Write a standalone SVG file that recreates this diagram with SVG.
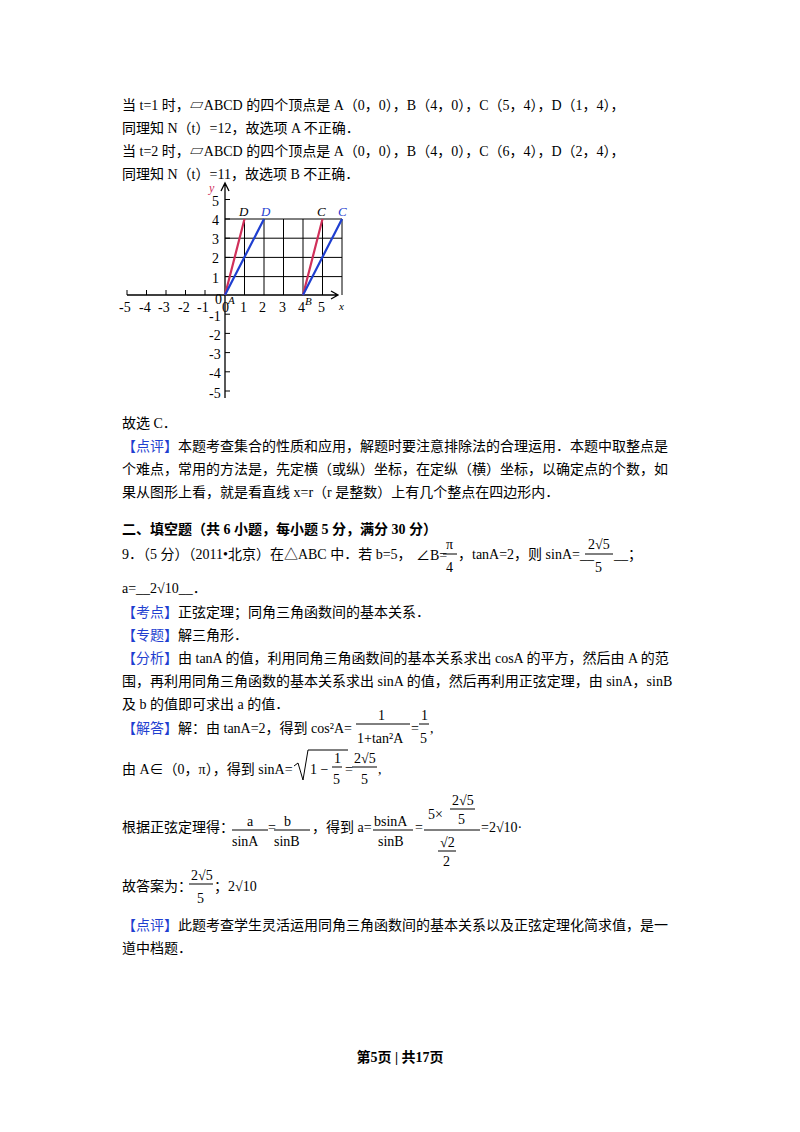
<svg xmlns="http://www.w3.org/2000/svg" width="800" height="1132" viewBox="0 0 800 1132">
<style>
text{font-family:"Liberation Serif","Noto Sans CJK SC",serif;font-size:14px;fill:#000}
.b{fill:#1f3fd0}
.m{font-family:"Liberation Sans","Noto Sans CJK SC",sans-serif;font-size:13px}
.g{stroke:#000;stroke-width:1;fill:none}
.s{font-size:11px}
.f{stroke:#000;stroke-width:1}
</style>
<rect width="800" height="1132" fill="#fff"/>
<g id="text-top">
<text x="122" y="110">当 t=1 时，▱ABCD 的四个顶点是 A（0，0），B（4，0），C（5，4），D（1，4），</text>
<text x="122" y="133">同理知 N（t）=12，故选项 A 不正确．</text>
<text x="122" y="156">当 t=2 时，▱ABCD 的四个顶点是 A（0，0），B（4，0），C（6，4），D（2，4），</text>
<text x="122" y="179">同理知 N（t）=11，故选项 B 不正确．</text>
</g>
<g id="graph">
<g class="g">
<path d="M225 276.6H342M225 257.4H342M225 238.2H342M225 219H342"/>
<path d="M244.5 219V295M264 219V295M283.5 219V295M303 219V295M322.5 219V295M342 219V295"/>
<path d="M127 295H337M331 291L338 295L331 299" stroke-width="1.3"/>
<path d="M225 398V184M221 191L225 183L229 191" stroke-width="1.3"/>
<path d="M146.5 295v-5M166 295v-5M185.5 295v-5M205 295v-5M127 295v-5"/>
<path d="M225 199.5h5M225 219h5M225 238.2h5M225 257.4h5M225 276.6h5M225 314.2h5M225 333.4h5M225 352.6h5M225 371.8h5M225 391h5"/>
</g>
<path d="M225 295L244.5 219M303 295L322.5 219" stroke="#d0305a" stroke-width="2.2"/>
<path d="M225 295L264 219M303 295L342 219" stroke="#1f3fd0" stroke-width="2.2"/>
<g class="m">
<text x="119" y="312">-5</text><text x="139" y="312">-4</text><text x="158" y="312">-3</text><text x="178" y="312">-2</text><text x="197" y="312">-1</text>
<text x="215" y="304">0</text><text x="222" y="312">0</text><text x="240" y="312">1</text><text x="259" y="312">2</text><text x="279" y="312">3</text><text x="298" y="312">4</text><text x="318" y="312">5</text>
<text x="212" y="206">5</text><text x="212" y="225">4</text><text x="212" y="244">3</text><text x="212" y="263">2</text><text x="212" y="283">1</text>
<text x="209" y="321">-1</text><text x="209" y="340">-2</text><text x="209" y="359">-3</text><text x="209" y="378">-4</text><text x="209" y="398">-5</text>
</g>
<text x="209" y="192" style="font-style:italic;fill:#d0305a;font-size:12px">y</text>
<text x="339" y="310" class="s" style="font-style:italic">x</text>
<text x="228" y="304" class="s" style="font-style:italic">A</text>
<text x="305" y="305" class="s" style="font-style:italic">B</text>
<text x="239" y="216" style="font-style:italic;font-size:13px">D</text>
<text x="261" y="216" style="font-style:italic;font-size:13px;fill:#1f3fd0">D</text>
<text x="317" y="216" style="font-style:italic;font-size:13px">C</text>
<text x="338" y="216" style="font-style:italic;font-size:13px;fill:#1f3fd0">C</text>
</g>
<g id="text-mid">
<text x="122" y="428">故选 C．</text>
<text x="122" y="451"><tspan class="b">【点评】</tspan>本题考查集合的性质和应用，解题时要注意排除法的合理运用．本题中取整点是</text>
<text x="122" y="474">个难点，常用的方法是，先定横（或纵）坐标，在定纵（横）坐标，以确定点的个数，如</text>
<text x="122" y="497">果从图形上看，就是看直线 x=r（r 是整数）上有几个整点在四边形内．</text>
<text x="122" y="534" style="font-weight:bold">二、填空题（共 6 小题，每小题 5 分，满分 30 分）</text>
<text x="122" y="559">9．（5 分）（2011•北京）在△ABC 中．若 b=5，</text>
<text x="416" y="560">∠B=</text><text x="446" y="549">π</text><line class="f" x1="443" y1="554" x2="457" y2="554"/><text x="446" y="572">4</text>
<text x="458" y="559">，tanA=2，则 sinA=__</text>
<text x="588" y="549">2√5</text><line class="f" x1="585" y1="554" x2="613" y2="554"/><text x="595" y="572">5</text>
<text x="614" y="559">__；</text>
<text x="122" y="593">a=__2√10__．</text>
<text x="122" y="617"><tspan class="b">【考点】</tspan>正弦定理；同角三角函数间的基本关系．</text>
<text x="122" y="640"><tspan class="b">【专题】</tspan>解三角形．</text>
<text x="122" y="663"><tspan class="b">【分析】</tspan>由 tanA 的值，利用同角三角函数间的基本关系求出 cosA 的平方，然后由 A 的范</text>
<text x="122" y="686">围，再利用同角三角函数的基本关系求出 sinA 的值，然后再利用正弦定理，由 sinA，sinB</text>
<text x="122" y="709">及 b 的值即可求出 a 的值．</text>
</g>
<g id="solution">
<text x="122" y="733"><tspan class="b">【解答】</tspan>解：由 tanA=2，得到 cos²A=</text>
<text x="378" y="720">1</text><line class="f" x1="356" y1="724" x2="410" y2="724"/><text x="357" y="743">1+tan²A</text>
<text x="411" y="733">=</text><text x="421" y="720">1</text><line class="f" x1="419" y1="724" x2="429" y2="724"/><text x="420" y="743">5</text><text x="430" y="733">,</text>
<text x="122" y="774">由 A∈（0，π），得到 sinA=</text>
<path d="M294 766l4 -3l5 17l5 -30h40" stroke="#000" fill="none"/>
<text x="310" y="774">1 − </text><text x="334" y="763">1</text><line class="f" x1="332" y1="767" x2="342" y2="767"/><text x="333" y="784">5</text>
<text x="345" y="774">=</text><text x="354" y="763">2√5</text><line class="f" x1="352" y1="767" x2="377" y2="767"/><text x="361" y="784">5</text><text x="378" y="774">,</text>
<text x="122" y="832">根据正弦定理得：</text>
<text x="247" y="826">a</text><line class="f" x1="232" y1="830" x2="268" y2="830"/><text x="232" y="846">sinA</text>
<text x="268" y="832">=</text><text x="284" y="826">b</text><line class="f" x1="274" y1="830" x2="310" y2="830"/><text x="274" y="846">sinB</text>
<text x="312" y="832">，得到 a=</text>
<text x="374" y="826">bsinA</text><line class="f" x1="373" y1="830" x2="413" y2="830"/><text x="378" y="846">sinB</text>
<text x="415" y="832">=</text>
<text x="428" y="819">5×</text><text x="452" y="805">2√5</text><line class="f" x1="450" y1="809" x2="475" y2="809"/><text x="458" y="824">5</text>
<line class="f" x1="424" y1="830" x2="480" y2="830"/>
<text x="440" y="847">√2</text><line class="f" x1="438" y1="851" x2="456" y2="851"/><text x="443" y="866">2</text>
<text x="481" y="832">=2√10·</text>
<text x="122" y="891">故答案为：</text>
<text x="191" y="880">2√5</text><line class="f" x1="189" y1="884" x2="213" y2="884"/><text x="197" y="903">5</text>
<text x="214" y="891">；2√10</text>
<text x="122" y="930"><tspan class="b">【点评】</tspan>此题考查学生灵活运用同角三角函数间的基本关系以及正弦定理化简求值，是一</text>
<text x="122" y="953">道中档题．</text>
</g>
<text x="400" y="1062" text-anchor="middle" style="font-weight:bold">第5页 | 共17页</text>
</svg>
